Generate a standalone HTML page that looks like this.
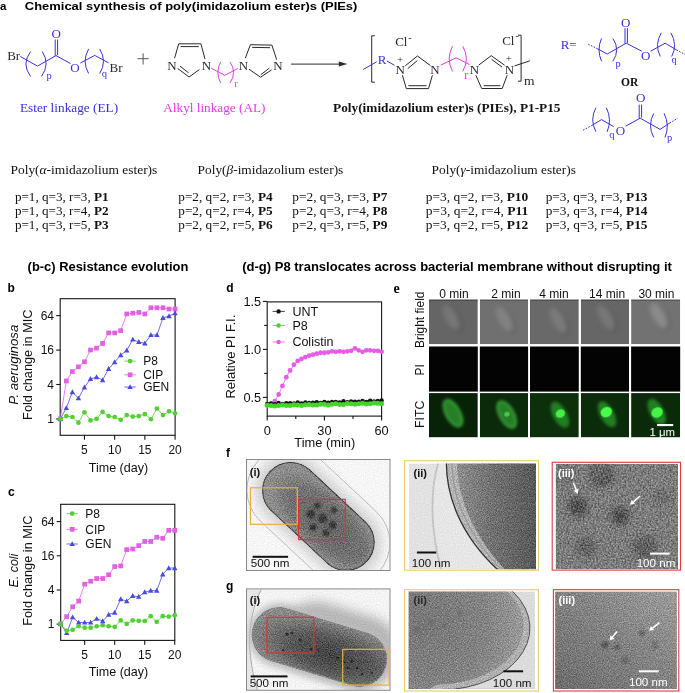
<!DOCTYPE html>
<html><head><meta charset="utf-8"><style>
html,body{margin:0;padding:0;background:#fff;}
body{width:685px;height:693px;overflow:hidden;}
svg{display:block;filter:blur(0.3px);}
</style></head><body>
<svg width="685" height="693" viewBox="0 0 685 693">
<rect width="685" height="693" fill="#fff"/>
<text x="0" y="9.9" font-family='"Liberation Sans", sans-serif' font-size="11.5" fill="#000" font-weight="bold" font-style="normal" text-anchor="start" >a</text>
<text x="24.8" y="9.9" font-family='"Liberation Sans", sans-serif' font-size="11.5" fill="#000" font-weight="bold" font-style="normal" text-anchor="start" textLength="332.6" lengthAdjust="spacingAndGlyphs" >Chemical synthesis of poly(imidazolium ester)s (PIEs)</text>
<text x="7.2" y="60.3" font-family='"Liberation Serif", serif' font-size="13" fill="#2a2a2a" font-weight="normal" font-style="normal" text-anchor="start" >Br</text>
<polyline points="20.40,56.50 37.40,66.10 56.00,55.60 70.50,63.50" fill="none" stroke="#3a2fe2" stroke-width="1.0" stroke-linejoin="miter" />
<line x1="55.2" y1="39.5" x2="55.2" y2="55.8" stroke="#3a2fe2" stroke-width="1.0" />
<line x1="57.6" y1="39.5" x2="57.6" y2="55.2" stroke="#3a2fe2" stroke-width="1.0" />
<text x="56.3" y="38.2" font-family='"Liberation Serif", serif' font-size="13" fill="#3a2fe2" font-weight="normal" font-style="normal" text-anchor="middle" >O</text>
<path d="M30.6,51.6 Q21.20,64.00 30.6,76.4" fill="none" stroke="#3a2fe2" stroke-width="1.0"/>
<path d="M42.3,51.6 Q50.30,64.00 41.5,76.4" fill="none" stroke="#3a2fe2" stroke-width="1.0"/>
<text x="46.6" y="78.5" font-family='"Liberation Serif", serif' font-size="10.5" fill="#3a2fe2" font-weight="normal" font-style="normal" text-anchor="start" >p</text>
<text x="74.9" y="71.6" font-family='"Liberation Serif", serif' font-size="13" fill="#3a2fe2" font-weight="normal" font-style="normal" text-anchor="middle" >O</text>
<polyline points="80.40,63.00 94.70,55.40 108.50,62.80" fill="none" stroke="#3a2fe2" stroke-width="1.0" stroke-linejoin="miter" />
<path d="M88.6,49 Q81.60,61.25 88.6,73.5" fill="none" stroke="#3a2fe2" stroke-width="1.0"/>
<path d="M99.7,49 Q107.30,61.25 99.7,73.5" fill="none" stroke="#3a2fe2" stroke-width="1.0"/>
<text x="101.8" y="76.6" font-family='"Liberation Serif", serif' font-size="10.5" fill="#3a2fe2" font-weight="normal" font-style="normal" text-anchor="start" >q</text>
<text x="109.6" y="71.6" font-family='"Liberation Serif", serif' font-size="13" fill="#2a2a2a" font-weight="normal" font-style="normal" text-anchor="start" >Br</text>
<line x1="137.5" y1="58.7" x2="148.6" y2="58.7" stroke="#555" stroke-width="1.0" />
<line x1="143.1" y1="53.4" x2="143.1" y2="64.5" stroke="#555" stroke-width="1.0" />
<text x="172.0" y="69.6" font-family='"Liberation Serif", serif' font-size="13" fill="#2a2a2a" font-weight="normal" font-style="normal" text-anchor="middle" >N</text>
<polyline points="174.60,58.20 178.70,43.80 200.90,43.80 205.00,59.00" fill="none" stroke="#2a2a2a" stroke-width="1.0" stroke-linejoin="miter" />
<line x1="180.6" y1="46.6" x2="198.8" y2="46.6" stroke="#2a2a2a" stroke-width="1.0" />
<polyline points="177.60,68.40 189.00,77.00 199.30,69.60" fill="none" stroke="#2a2a2a" stroke-width="1.0" stroke-linejoin="miter" />
<line x1="180.0" y1="66.2" x2="188.6" y2="72.8" stroke="#2a2a2a" stroke-width="1.0" />
<text x="206.4" y="69.8" font-family='"Liberation Serif", serif' font-size="13" fill="#2a2a2a" font-weight="normal" font-style="normal" text-anchor="middle" >N</text>
<polyline points="211.40,68.30 224.80,75.30 237.60,68.60" fill="none" stroke="#e63ae6" stroke-width="1.0" stroke-linejoin="miter" />
<path d="M220.7,61.9 Q214.90,72.40 220.7,82.9" fill="none" stroke="#e63ae6" stroke-width="1.0"/>
<path d="M230,61.9 Q237.20,72.40 230,82.9" fill="none" stroke="#e63ae6" stroke-width="1.0"/>
<text x="234.3" y="87.2" font-family='"Liberation Serif", serif' font-size="10.5" fill="#e63ae6" font-weight="normal" font-style="normal" text-anchor="start" >r</text>
<text x="243.5" y="69.9" font-family='"Liberation Serif", serif' font-size="13" fill="#2a2a2a" font-weight="normal" font-style="normal" text-anchor="middle" >N</text>
<polyline points="245.30,58.20 250.40,44.70 271.90,45.10 276.70,59.70" fill="none" stroke="#2a2a2a" stroke-width="1.0" stroke-linejoin="miter" />
<line x1="252.2" y1="47.4" x2="270.1" y2="47.7" stroke="#2a2a2a" stroke-width="1.0" />
<polyline points="249.00,69.20 260.60,77.20 271.60,69.90" fill="none" stroke="#2a2a2a" stroke-width="1.0" stroke-linejoin="miter" />
<line x1="260.8" y1="74.7" x2="269.4" y2="68.1" stroke="#2a2a2a" stroke-width="1.0" />
<text x="278.0" y="70.3" font-family='"Liberation Serif", serif' font-size="13" fill="#2a2a2a" font-weight="normal" font-style="normal" text-anchor="middle" >N</text>
<line x1="291.1" y1="64.1" x2="342" y2="64.1" stroke="#2a2a2a" stroke-width="1.0" />
<polygon points="338.8,61.6 347.4,64.1 338.8,66.6" fill="#2a2a2a"/>
<polyline points="374.90,35.80 371.70,35.80 371.70,82.20 374.90,82.20" fill="none" stroke="#2a2a2a" stroke-width="1.0" stroke-linejoin="miter" />
<polyline points="363.00,69.60 376.60,61.80" fill="none" stroke="#3a2fe2" stroke-width="1.0" stroke-linejoin="miter" />
<text x="382.2" y="63.8" font-family='"Liberation Serif", serif' font-size="13" fill="#3a2fe2" font-weight="normal" font-style="normal" text-anchor="middle" >R</text>
<polyline points="386.80,61.00 394.40,65.20" fill="none" stroke="#3a2fe2" stroke-width="1.0" stroke-linejoin="miter" />
<text x="400.0" y="63.0" font-family='"Liberation Serif", serif' font-size="11" fill="#2a2a2a" font-weight="normal" font-style="normal" text-anchor="middle" >+</text>
<text x="400.1" y="74" font-family='"Liberation Serif", serif' font-size="13" fill="#2a2a2a" font-weight="normal" font-style="normal" text-anchor="middle" >N</text>
<text x="395.2" y="46" font-family='"Liberation Serif", serif' font-size="13" fill="#2a2a2a" font-weight="normal" font-style="normal" text-anchor="start" >Cl</text>
<text x="408.2" y="40.6" font-family='"Liberation Serif", serif' font-size="10" fill="#2a2a2a" font-weight="normal" font-style="normal" text-anchor="start" >-</text>
<polyline points="405.30,65.80 417.40,56.00 430.40,65.50" fill="none" stroke="#2a2a2a" stroke-width="1.0" stroke-linejoin="miter" />
<line x1="407.8" y1="68.6" x2="417.3" y2="60.6" stroke="#2a2a2a" stroke-width="1.0" />
<polyline points="402.40,75.20 406.30,88.60 428.50,88.60 432.40,75.20" fill="none" stroke="#2a2a2a" stroke-width="1.0" stroke-linejoin="miter" />
<line x1="408.4" y1="85.7" x2="426.5" y2="85.7" stroke="#2a2a2a" stroke-width="1.0" />
<text x="434.9" y="74" font-family='"Liberation Serif", serif' font-size="13" fill="#2a2a2a" font-weight="normal" font-style="normal" text-anchor="middle" >N</text>
<polyline points="440.80,65.10 456.20,57.80 469.60,64.60" fill="none" stroke="#e63ae6" stroke-width="1.0" stroke-linejoin="miter" />
<path d="M452.5,46.2 Q445.90,58.80 452.5,71.4" fill="none" stroke="#e63ae6" stroke-width="1.0"/>
<path d="M462.7,46.2 Q470.10,58.80 462.7,71.4" fill="none" stroke="#e63ae6" stroke-width="1.0"/>
<text x="464.3" y="78.9" font-family='"Liberation Serif", serif' font-size="12" fill="#e63ae6" font-weight="normal" font-style="normal" text-anchor="start" >r</text>
<text x="474.4" y="73.9" font-family='"Liberation Serif", serif' font-size="13" fill="#2a2a2a" font-weight="normal" font-style="normal" text-anchor="middle" >N</text>
<polyline points="478.60,65.20 491.20,55.70 504.60,65.20" fill="none" stroke="#2a2a2a" stroke-width="1.0" stroke-linejoin="miter" />
<line x1="491.6" y1="59.4" x2="502.0" y2="67.0" stroke="#2a2a2a" stroke-width="1.0" />
<polyline points="475.80,75.20 481.70,88.50 502.20,88.50 507.20,75.20" fill="none" stroke="#2a2a2a" stroke-width="1.0" stroke-linejoin="miter" />
<line x1="483.6" y1="85.7" x2="500.4" y2="85.7" stroke="#2a2a2a" stroke-width="1.0" />
<text x="509.4" y="73.9" font-family='"Liberation Serif", serif' font-size="13" fill="#2a2a2a" font-weight="normal" font-style="normal" text-anchor="middle" >N</text>
<text x="508.8" y="62.0" font-family='"Liberation Serif", serif' font-size="11" fill="#2a2a2a" font-weight="normal" font-style="normal" text-anchor="middle" >+</text>
<text x="502.2" y="44.7" font-family='"Liberation Serif", serif' font-size="13" fill="#2a2a2a" font-weight="normal" font-style="normal" text-anchor="start" >Cl</text>
<text x="515.4" y="39.3" font-family='"Liberation Serif", serif' font-size="10" fill="#2a2a2a" font-weight="normal" font-style="normal" text-anchor="start" >-</text>
<polyline points="518.00,35.20 521.10,35.20 521.10,81.20 518.00,81.20" fill="none" stroke="#2a2a2a" stroke-width="1.0" stroke-linejoin="miter" />
<line x1="514.6" y1="65.9" x2="529.9" y2="60.8" stroke="#2a2a2a" stroke-width="1.0" />
<text x="524.0" y="84.9" font-family='"Liberation Serif", serif' font-size="13.5" fill="#2a2a2a" font-weight="normal" font-style="normal" text-anchor="start" >m</text>
<text x="560.7" y="48.9" font-family='"Liberation Serif", serif' font-size="13" fill="#3a2fe2" font-weight="normal" font-style="normal" text-anchor="start" >R=</text>
<line x1="588.2" y1="44.2" x2="597.7" y2="48.9" stroke="#3a2fe2" stroke-width="1.0" stroke-dasharray="1.6,1.4"/>
<polyline points="597.70,48.90 607.20,54.00 626.20,43.20 641.80,51.20" fill="none" stroke="#3a2fe2" stroke-width="1.0" stroke-linejoin="miter" />
<line x1="625.0" y1="28.2" x2="625.0" y2="43.5" stroke="#3a2fe2" stroke-width="1.0" />
<line x1="627.4" y1="28.2" x2="627.4" y2="42.8" stroke="#3a2fe2" stroke-width="1.0" />
<text x="625.8" y="27.2" font-family='"Liberation Serif", serif' font-size="13" fill="#3a2fe2" font-weight="normal" font-style="normal" text-anchor="middle" >O</text>
<text x="645.7" y="59.8" font-family='"Liberation Serif", serif' font-size="13" fill="#3a2fe2" font-weight="normal" font-style="normal" text-anchor="middle" >O</text>
<polyline points="650.60,51.20 665.10,43.20 676.50,49.90" fill="none" stroke="#3a2fe2" stroke-width="1.0" stroke-linejoin="miter" />
<line x1="676.5" y1="49.9" x2="685" y2="54.6" stroke="#3a2fe2" stroke-width="1.0" stroke-dasharray="1.6,1.4"/>
<path d="M601.5,38.5 Q596.50,49.85 601.5,61.2" fill="none" stroke="#3a2fe2" stroke-width="1.0"/>
<path d="M612.9,38.5 Q620.50,49.85 612.9,61.2" fill="none" stroke="#3a2fe2" stroke-width="1.0"/>
<text x="615.5" y="67.2" font-family='"Liberation Serif", serif' font-size="10.5" fill="#3a2fe2" font-weight="normal" font-style="normal" text-anchor="start" >p</text>
<path d="M661.3,32.8 Q654.20,44.65 660.3,56.5" fill="none" stroke="#3a2fe2" stroke-width="1.0"/>
<path d="M670.8,32.8 Q677.95,44.65 671.7,56.5" fill="none" stroke="#3a2fe2" stroke-width="1.0"/>
<text x="671.4" y="63.2" font-family='"Liberation Serif", serif' font-size="10.5" fill="#3a2fe2" font-weight="normal" font-style="normal" text-anchor="start" >q</text>
<text x="629.6" y="85.6" font-family='"Liberation Serif", serif' font-size="11.5" fill="#111" font-weight="bold" font-style="normal" text-anchor="middle" >OR</text>
<line x1="583" y1="130.2" x2="591.9" y2="125.4" stroke="#3a2fe2" stroke-width="1.0" stroke-dasharray="1.6,1.4"/>
<polyline points="591.90,125.40 601.50,119.60 613.60,126.60" fill="none" stroke="#3a2fe2" stroke-width="1.0" stroke-linejoin="miter" />
<path d="M595.9,107.7 Q589.50,119.75 595.9,131.8" fill="none" stroke="#3a2fe2" stroke-width="1.0"/>
<path d="M606.3,107.7 Q612.30,119.75 607.1,131.8" fill="none" stroke="#3a2fe2" stroke-width="1.0"/>
<text x="609.3" y="138.4" font-family='"Liberation Serif", serif' font-size="10.5" fill="#3a2fe2" font-weight="normal" font-style="normal" text-anchor="start" >q</text>
<text x="620.4" y="135.1" font-family='"Liberation Serif", serif' font-size="13" fill="#3a2fe2" font-weight="normal" font-style="normal" text-anchor="middle" >O</text>
<polyline points="625.60,126.20 640.20,118.20 660.10,129.40 669.70,123.00" fill="none" stroke="#3a2fe2" stroke-width="1.0" stroke-linejoin="miter" />
<line x1="639.2" y1="104.6" x2="639.2" y2="118.6" stroke="#3a2fe2" stroke-width="1.0" />
<line x1="641.6" y1="104.6" x2="641.6" y2="117.6" stroke="#3a2fe2" stroke-width="1.0" />
<text x="640.8" y="102.2" font-family='"Liberation Serif", serif' font-size="13" fill="#3a2fe2" font-weight="normal" font-style="normal" text-anchor="middle" >O</text>
<line x1="669.7" y1="123" x2="677.8" y2="118.2" stroke="#3a2fe2" stroke-width="1.0" stroke-dasharray="1.6,1.4"/>
<path d="M653.7,113.4 Q647.30,125.40 653.7,137.4" fill="none" stroke="#3a2fe2" stroke-width="1.0"/>
<path d="M664.1,113.4 Q670.05,125.40 665.0,137.4" fill="none" stroke="#3a2fe2" stroke-width="1.0"/>
<text x="667.1" y="140.8" font-family='"Liberation Serif", serif' font-size="10.5" fill="#3a2fe2" font-weight="normal" font-style="normal" text-anchor="start" >p</text>
<text x="20" y="111.9" font-family='"Liberation Serif", serif' font-size="13.5" fill="#3a2fe2" font-weight="normal" font-style="normal" text-anchor="start" textLength="98.1" lengthAdjust="spacingAndGlyphs" >Ester linkage (EL)</text>
<text x="163.3" y="111.9" font-family='"Liberation Serif", serif' font-size="13.5" fill="#e63ae6" font-weight="normal" font-style="normal" text-anchor="start" textLength="102.2" lengthAdjust="spacingAndGlyphs" >Alkyl linkage (AL)</text>
<text x="333.1" y="111.9" font-family='"Liberation Serif", serif' font-size="13" fill="#111" font-weight="bold" font-style="normal" text-anchor="start" textLength="227.4" lengthAdjust="spacingAndGlyphs" >Poly(imidazolium ester)s (PIEs), P1-P15</text>
<text x="10.5" y="173.7" font-family='"Liberation Serif", serif' font-size="12.5" fill="#111" textLength="146.8" lengthAdjust="spacingAndGlyphs">Poly(<tspan font-style="italic">α</tspan>-imidazolium ester)s</text>
<text x="197.6" y="173.7" font-family='"Liberation Serif", serif' font-size="12.5" fill="#111" textLength="145.70000000000002" lengthAdjust="spacingAndGlyphs">Poly(<tspan font-style="italic">β</tspan>-imidazolium ester)s</text>
<text x="431.6" y="173.7" font-family='"Liberation Serif", serif' font-size="12.5" fill="#111" textLength="144.29999999999995" lengthAdjust="spacingAndGlyphs">Poly(<tspan font-style="italic">γ</tspan>-imidazolium ester)s</text>
<text x="14.9" y="200.5" font-family='"Liberation Serif", serif' font-size="12.5" fill="#111" textLength="93.69999999999999" lengthAdjust="spacingAndGlyphs">p=1, q=3, r=3, <tspan font-weight="bold">P1</tspan></text>
<text x="14.9" y="214.6" font-family='"Liberation Serif", serif' font-size="12.5" fill="#111" textLength="93.69999999999999" lengthAdjust="spacingAndGlyphs">p=1, q=3, r=4, <tspan font-weight="bold">P2</tspan></text>
<text x="14.9" y="228.6" font-family='"Liberation Serif", serif' font-size="12.5" fill="#111" textLength="93.69999999999999" lengthAdjust="spacingAndGlyphs">p=1, q=3, r=5, <tspan font-weight="bold">P3</tspan></text>
<text x="178.3" y="200.5" font-family='"Liberation Serif", serif' font-size="12.5" fill="#111" textLength="94.30000000000001" lengthAdjust="spacingAndGlyphs">p=2, q=2, r=3, <tspan font-weight="bold">P4</tspan></text>
<text x="178.3" y="214.6" font-family='"Liberation Serif", serif' font-size="12.5" fill="#111" textLength="94.30000000000001" lengthAdjust="spacingAndGlyphs">p=2, q=2, r=4, <tspan font-weight="bold">P5</tspan></text>
<text x="178.3" y="228.6" font-family='"Liberation Serif", serif' font-size="12.5" fill="#111" textLength="94.30000000000001" lengthAdjust="spacingAndGlyphs">p=2, q=2, r=5, <tspan font-weight="bold">P6</tspan></text>
<text x="292.3" y="200.5" font-family='"Liberation Serif", serif' font-size="12.5" fill="#111" textLength="95.09999999999997" lengthAdjust="spacingAndGlyphs">p=2, q=3, r=3, <tspan font-weight="bold">P7</tspan></text>
<text x="292.3" y="214.6" font-family='"Liberation Serif", serif' font-size="12.5" fill="#111" textLength="95.09999999999997" lengthAdjust="spacingAndGlyphs">p=2, q=3, r=4, <tspan font-weight="bold">P8</tspan></text>
<text x="292.3" y="228.6" font-family='"Liberation Serif", serif' font-size="12.5" fill="#111" textLength="95.09999999999997" lengthAdjust="spacingAndGlyphs">p=2, q=3, r=5, <tspan font-weight="bold">P9</tspan></text>
<text x="425.8" y="200.5" font-family='"Liberation Serif", serif' font-size="12.5" fill="#111" textLength="102.49999999999994" lengthAdjust="spacingAndGlyphs">p=3, q=2, r=3, <tspan font-weight="bold">P10</tspan></text>
<text x="425.8" y="214.6" font-family='"Liberation Serif", serif' font-size="12.5" fill="#111" textLength="102.49999999999994" lengthAdjust="spacingAndGlyphs">p=3, q=2, r=4, <tspan font-weight="bold">P11</tspan></text>
<text x="425.8" y="228.6" font-family='"Liberation Serif", serif' font-size="12.5" fill="#111" textLength="102.49999999999994" lengthAdjust="spacingAndGlyphs">p=3, q=2, r=5, <tspan font-weight="bold">P12</tspan></text>
<text x="545.7" y="200.5" font-family='"Liberation Serif", serif' font-size="12.5" fill="#111" textLength="101.79999999999995" lengthAdjust="spacingAndGlyphs">p=3, q=3, r=3, <tspan font-weight="bold">P13</tspan></text>
<text x="545.7" y="214.6" font-family='"Liberation Serif", serif' font-size="12.5" fill="#111" textLength="101.79999999999995" lengthAdjust="spacingAndGlyphs">p=3, q=3, r=4, <tspan font-weight="bold">P14</tspan></text>
<text x="545.7" y="228.6" font-family='"Liberation Serif", serif' font-size="12.5" fill="#111" textLength="101.79999999999995" lengthAdjust="spacingAndGlyphs">p=3, q=3, r=5, <tspan font-weight="bold">P15</tspan></text>
<text x="27.6" y="270.5" font-family='"Liberation Sans", sans-serif' font-size="12" fill="#000" font-weight="bold" font-style="normal" text-anchor="start" textLength="160.7" lengthAdjust="spacingAndGlyphs" >(b-c) Resistance evolution</text>
<text x="242.2" y="270.8" font-family='"Liberation Sans", sans-serif' font-size="12" fill="#000" font-weight="bold" font-style="normal" text-anchor="start" textLength="429.7" lengthAdjust="spacingAndGlyphs" >(d-g) P8 translocates across bacterial membrane without disrupting it</text>
<text x="7.6" y="292.4" font-family='"Liberation Sans", sans-serif' font-size="12" fill="#000" font-weight="bold" font-style="normal" text-anchor="start" >b</text>
<text x="8.0" y="495.5" font-family='"Liberation Sans", sans-serif' font-size="12" fill="#000" font-weight="bold" font-style="normal" text-anchor="start" >c</text>
<text x="226.3" y="292.2" font-family='"Liberation Sans", sans-serif' font-size="12" fill="#000" font-weight="bold" font-style="normal" text-anchor="start" >d</text>
<text x="393.6" y="292.6" font-family='"Liberation Serif", serif' font-size="14" fill="#000" font-weight="bold" font-style="normal" text-anchor="start" >e</text>
<text x="226.0" y="456.8" font-family='"Liberation Sans", sans-serif' font-size="12" fill="#000" font-weight="bold" font-style="normal" text-anchor="start" >f</text>
<text x="226.0" y="589.5" font-family='"Liberation Sans", sans-serif' font-size="12" fill="#000" font-weight="bold" font-style="normal" text-anchor="start" >g</text>
<line x1="56.2" y1="315.6" x2="60.2" y2="315.6" stroke="#151515" stroke-width="1.1" />
<text x="54.0" y="319.90000000000003" font-family='"Liberation Sans", sans-serif' font-size="12" fill="#111" font-weight="normal" font-style="normal" text-anchor="end" >64</text>
<line x1="56.2" y1="350.1" x2="60.2" y2="350.1" stroke="#151515" stroke-width="1.1" />
<text x="54.0" y="354.40000000000003" font-family='"Liberation Sans", sans-serif' font-size="12" fill="#111" font-weight="normal" font-style="normal" text-anchor="end" >16</text>
<line x1="56.2" y1="384.5" x2="60.2" y2="384.5" stroke="#151515" stroke-width="1.1" />
<text x="54.0" y="388.8" font-family='"Liberation Sans", sans-serif' font-size="12" fill="#111" font-weight="normal" font-style="normal" text-anchor="end" >4</text>
<line x1="56.2" y1="418.9" x2="60.2" y2="418.9" stroke="#151515" stroke-width="1.1" />
<text x="54.0" y="423.2" font-family='"Liberation Sans", sans-serif' font-size="12" fill="#111" font-weight="normal" font-style="normal" text-anchor="end" >1</text>
<line x1="84.46" y1="435.3" x2="84.46" y2="439.7" stroke="#151515" stroke-width="1.1" />
<text x="84.46" y="453.5" font-family='"Liberation Sans", sans-serif' font-size="12" fill="#111" font-weight="normal" font-style="normal" text-anchor="middle" >5</text>
<line x1="114.66" y1="435.3" x2="114.66" y2="439.7" stroke="#151515" stroke-width="1.1" />
<text x="114.66" y="453.5" font-family='"Liberation Sans", sans-serif' font-size="12" fill="#111" font-weight="normal" font-style="normal" text-anchor="middle" >10</text>
<line x1="144.86" y1="435.3" x2="144.86" y2="439.7" stroke="#151515" stroke-width="1.1" />
<text x="144.86" y="453.5" font-family='"Liberation Sans", sans-serif' font-size="12" fill="#111" font-weight="normal" font-style="normal" text-anchor="middle" >15</text>
<line x1="175.06" y1="435.3" x2="175.06" y2="439.7" stroke="#151515" stroke-width="1.1" />
<text x="175.06" y="453.5" font-family='"Liberation Sans", sans-serif' font-size="12" fill="#111" font-weight="normal" font-style="normal" text-anchor="middle" >20</text>
<text x="118.45" y="471.6" font-family='"Liberation Sans", sans-serif' font-size="12.4" fill="#111" font-weight="normal" font-style="normal" text-anchor="middle" textLength="59.4" lengthAdjust="spacingAndGlyphs" >Time (day)</text>
<rect x="60.2" y="298.7" width="114.89999999999999" height="136.60000000000002" fill="none" stroke="#151515" stroke-width="1.1"/>
<polyline points="60.30,418.87 66.34,380.96 72.38,371.58 78.42,366.88 84.46,361.82 90.50,349.99 96.54,348.12 102.58,343.42 108.62,332.91 114.66,332.91 120.70,330.66 126.74,313.96 132.78,313.21 138.82,312.45 144.86,313.96 150.90,307.76 156.94,307.76 162.98,307.76 169.02,309.08 175.06,309.08" fill="none" stroke="#e35fe3" stroke-width="0.8" stroke-linejoin="miter" />
<rect x="57.95" y="416.52" width="4.70" height="4.70" fill="#e35fe3"/>
<rect x="63.99" y="378.61" width="4.70" height="4.70" fill="#e35fe3"/>
<rect x="70.03" y="369.23" width="4.70" height="4.70" fill="#e35fe3"/>
<rect x="76.07" y="364.53" width="4.70" height="4.70" fill="#e35fe3"/>
<rect x="82.11" y="359.47" width="4.70" height="4.70" fill="#e35fe3"/>
<rect x="88.15" y="347.64" width="4.70" height="4.70" fill="#e35fe3"/>
<rect x="94.19" y="345.77" width="4.70" height="4.70" fill="#e35fe3"/>
<rect x="100.23" y="341.07" width="4.70" height="4.70" fill="#e35fe3"/>
<rect x="106.27" y="330.56" width="4.70" height="4.70" fill="#e35fe3"/>
<rect x="112.31" y="330.56" width="4.70" height="4.70" fill="#e35fe3"/>
<rect x="118.35" y="328.31" width="4.70" height="4.70" fill="#e35fe3"/>
<rect x="124.39" y="311.61" width="4.70" height="4.70" fill="#e35fe3"/>
<rect x="130.43" y="310.86" width="4.70" height="4.70" fill="#e35fe3"/>
<rect x="136.47" y="310.10" width="4.70" height="4.70" fill="#e35fe3"/>
<rect x="142.51" y="311.61" width="4.70" height="4.70" fill="#e35fe3"/>
<rect x="148.55" y="305.41" width="4.70" height="4.70" fill="#e35fe3"/>
<rect x="154.59" y="305.41" width="4.70" height="4.70" fill="#e35fe3"/>
<rect x="160.63" y="305.41" width="4.70" height="4.70" fill="#e35fe3"/>
<rect x="166.67" y="306.73" width="4.70" height="4.70" fill="#e35fe3"/>
<rect x="172.71" y="306.73" width="4.70" height="4.70" fill="#e35fe3"/>
<polyline points="60.30,418.87 66.34,407.99 72.38,392.03 78.42,398.23 84.46,387.34 90.50,378.90 96.54,377.02 102.58,380.02 108.62,368.76 114.66,362.19 120.70,355.06 126.74,350.37 132.78,339.48 138.82,341.92 144.86,343.42 150.90,334.98 156.94,334.98 162.98,317.90 169.02,316.02 175.06,313.21" fill="none" stroke="#4a4ae2" stroke-width="0.8" stroke-linejoin="miter" />
<polygon points="60.30,416.05 63.03,420.99 57.57,420.99" fill="#4a4ae2"/>
<polygon points="66.34,405.17 69.07,410.10 63.61,410.10" fill="#4a4ae2"/>
<polygon points="72.38,389.21 75.11,394.15 69.65,394.15" fill="#4a4ae2"/>
<polygon points="78.42,395.41 81.15,400.34 75.69,400.34" fill="#4a4ae2"/>
<polygon points="84.46,384.52 87.19,389.46 81.73,389.46" fill="#4a4ae2"/>
<polygon points="90.50,376.08 93.23,381.01 87.77,381.01" fill="#4a4ae2"/>
<polygon points="96.54,374.20 99.27,379.13 93.81,379.13" fill="#4a4ae2"/>
<polygon points="102.58,377.20 105.31,382.14 99.85,382.14" fill="#4a4ae2"/>
<polygon points="108.62,365.94 111.35,370.88 105.89,370.88" fill="#4a4ae2"/>
<polygon points="114.66,359.37 117.39,364.31 111.93,364.31" fill="#4a4ae2"/>
<polygon points="120.70,352.24 123.43,357.18 117.97,357.18" fill="#4a4ae2"/>
<polygon points="126.74,347.55 129.47,352.48 124.01,352.48" fill="#4a4ae2"/>
<polygon points="132.78,336.66 135.51,341.60 130.05,341.60" fill="#4a4ae2"/>
<polygon points="138.82,339.10 141.55,344.04 136.09,344.04" fill="#4a4ae2"/>
<polygon points="144.86,340.60 147.59,345.54 142.13,345.54" fill="#4a4ae2"/>
<polygon points="150.90,332.16 153.63,337.09 148.17,337.09" fill="#4a4ae2"/>
<polygon points="156.94,332.16 159.67,337.09 154.21,337.09" fill="#4a4ae2"/>
<polygon points="162.98,315.08 165.71,320.01 160.25,320.01" fill="#4a4ae2"/>
<polygon points="169.02,313.20 171.75,318.14 166.29,318.14" fill="#4a4ae2"/>
<polygon points="175.06,310.39 177.79,315.32 172.33,315.32" fill="#4a4ae2"/>
<polyline points="60.30,418.87 66.34,416.06 72.38,417.00 78.42,422.63 84.46,412.30 90.50,420.38 96.54,418.87 102.58,411.93 108.62,416.06 114.66,417.00 120.70,419.81 126.74,415.12 132.78,416.62 138.82,416.06 144.86,414.18 150.90,419.25 156.94,408.55 162.98,415.12 169.02,411.37 175.06,413.24" fill="none" stroke="#52d033" stroke-width="0.8" stroke-linejoin="miter" />
<circle cx="60.30" cy="418.87" r="2.35" fill="#52d033"/>
<circle cx="66.34" cy="416.06" r="2.35" fill="#52d033"/>
<circle cx="72.38" cy="417.00" r="2.35" fill="#52d033"/>
<circle cx="78.42" cy="422.63" r="2.35" fill="#52d033"/>
<circle cx="84.46" cy="412.30" r="2.35" fill="#52d033"/>
<circle cx="90.50" cy="420.38" r="2.35" fill="#52d033"/>
<circle cx="96.54" cy="418.87" r="2.35" fill="#52d033"/>
<circle cx="102.58" cy="411.93" r="2.35" fill="#52d033"/>
<circle cx="108.62" cy="416.06" r="2.35" fill="#52d033"/>
<circle cx="114.66" cy="417.00" r="2.35" fill="#52d033"/>
<circle cx="120.70" cy="419.81" r="2.35" fill="#52d033"/>
<circle cx="126.74" cy="415.12" r="2.35" fill="#52d033"/>
<circle cx="132.78" cy="416.62" r="2.35" fill="#52d033"/>
<circle cx="138.82" cy="416.06" r="2.35" fill="#52d033"/>
<circle cx="144.86" cy="414.18" r="2.35" fill="#52d033"/>
<circle cx="150.90" cy="419.25" r="2.35" fill="#52d033"/>
<circle cx="156.94" cy="408.55" r="2.35" fill="#52d033"/>
<circle cx="162.98" cy="415.12" r="2.35" fill="#52d033"/>
<circle cx="169.02" cy="411.37" r="2.35" fill="#52d033"/>
<circle cx="175.06" cy="413.24" r="2.35" fill="#52d033"/>
<line x1="124.4" y1="361.1" x2="135.70000000000002" y2="361.1" stroke="#52d033" stroke-width="0.8" />
<circle cx="130.10" cy="361.10" r="2.35" fill="#52d033"/>
<text x="143.20000000000002" y="365.40000000000003" font-family='"Liberation Sans", sans-serif' font-size="12" fill="#111" font-weight="normal" font-style="normal" text-anchor="start" >P8</text>
<line x1="124.4" y1="374.8" x2="135.70000000000002" y2="374.8" stroke="#e35fe3" stroke-width="0.8" />
<rect x="127.75" y="372.45" width="4.70" height="4.70" fill="#e35fe3"/>
<text x="143.20000000000002" y="379.1" font-family='"Liberation Sans", sans-serif' font-size="12" fill="#111" font-weight="normal" font-style="normal" text-anchor="start" >CIP</text>
<line x1="124.4" y1="387.0" x2="135.70000000000002" y2="387.0" stroke="#4a4ae2" stroke-width="0.8" />
<polygon points="130.10,384.18 132.83,389.12 127.37,389.12" fill="#4a4ae2"/>
<text x="143.20000000000002" y="391.3" font-family='"Liberation Sans", sans-serif' font-size="12" fill="#111" font-weight="normal" font-style="normal" text-anchor="start" >GEN</text>
<text transform="translate(32.0,364.7) rotate(-90)" font-family='"Liberation Sans", sans-serif' font-size="12.5" fill="#111" text-anchor="middle" textLength="110.4" lengthAdjust="spacingAndGlyphs">Fold change in MIC</text>
<text transform="translate(18.3,364.7) rotate(-90)" font-family='"Liberation Sans", sans-serif' font-size="12.5" fill="#111" font-style="italic" text-anchor="middle" textLength="80.1" lengthAdjust="spacingAndGlyphs">P. aeruginosa</text>
<line x1="56.7" y1="521.6" x2="60.7" y2="521.6" stroke="#151515" stroke-width="1.1" />
<text x="54.5" y="525.9" font-family='"Liberation Sans", sans-serif' font-size="12" fill="#111" font-weight="normal" font-style="normal" text-anchor="end" >64</text>
<line x1="56.7" y1="555.8" x2="60.7" y2="555.8" stroke="#151515" stroke-width="1.1" />
<text x="54.5" y="560.0999999999999" font-family='"Liberation Sans", sans-serif' font-size="12" fill="#111" font-weight="normal" font-style="normal" text-anchor="end" >16</text>
<line x1="56.7" y1="590.0" x2="60.7" y2="590.0" stroke="#151515" stroke-width="1.1" />
<text x="54.5" y="594.3" font-family='"Liberation Sans", sans-serif' font-size="12" fill="#111" font-weight="normal" font-style="normal" text-anchor="end" >4</text>
<line x1="56.7" y1="624.1" x2="60.7" y2="624.1" stroke="#151515" stroke-width="1.1" />
<text x="54.5" y="628.4" font-family='"Liberation Sans", sans-serif' font-size="12" fill="#111" font-weight="normal" font-style="normal" text-anchor="end" >1</text>
<line x1="84.67" y1="640.4" x2="84.67" y2="644.8" stroke="#151515" stroke-width="1.1" />
<text x="84.67" y="658.6" font-family='"Liberation Sans", sans-serif' font-size="12" fill="#111" font-weight="normal" font-style="normal" text-anchor="middle" >5</text>
<line x1="114.695" y1="640.4" x2="114.695" y2="644.8" stroke="#151515" stroke-width="1.1" />
<text x="114.695" y="658.6" font-family='"Liberation Sans", sans-serif' font-size="12" fill="#111" font-weight="normal" font-style="normal" text-anchor="middle" >10</text>
<line x1="144.72" y1="640.4" x2="144.72" y2="644.8" stroke="#151515" stroke-width="1.1" />
<text x="144.72" y="658.6" font-family='"Liberation Sans", sans-serif' font-size="12" fill="#111" font-weight="normal" font-style="normal" text-anchor="middle" >15</text>
<line x1="174.745" y1="640.4" x2="174.745" y2="644.8" stroke="#151515" stroke-width="1.1" />
<text x="174.745" y="658.6" font-family='"Liberation Sans", sans-serif' font-size="12" fill="#111" font-weight="normal" font-style="normal" text-anchor="middle" >20</text>
<text x="118.55" y="676.3" font-family='"Liberation Sans", sans-serif' font-size="12.4" fill="#111" font-weight="normal" font-style="normal" text-anchor="middle" textLength="59.4" lengthAdjust="spacingAndGlyphs" >Time (day)</text>
<rect x="60.7" y="504.3" width="114.10000000000001" height="136.09999999999997" fill="none" stroke="#151515" stroke-width="1.1"/>
<polyline points="60.65,623.95 66.66,616.62 72.66,606.78 78.66,601.13 84.67,584.17 90.67,581.24 96.68,578.52 102.69,578.52 108.69,574.75 114.69,566.58 120.70,565.95 126.70,549.62 132.71,548.99 138.72,545.64 144.72,541.46 150.72,541.46 156.73,537.27 162.73,538.32 168.74,530.36 174.75,530.36" fill="none" stroke="#e35fe3" stroke-width="0.8" stroke-linejoin="miter" />
<rect x="58.30" y="621.60" width="4.70" height="4.70" fill="#e35fe3"/>
<rect x="64.31" y="614.27" width="4.70" height="4.70" fill="#e35fe3"/>
<rect x="70.31" y="604.43" width="4.70" height="4.70" fill="#e35fe3"/>
<rect x="76.31" y="598.78" width="4.70" height="4.70" fill="#e35fe3"/>
<rect x="82.32" y="581.82" width="4.70" height="4.70" fill="#e35fe3"/>
<rect x="88.33" y="578.89" width="4.70" height="4.70" fill="#e35fe3"/>
<rect x="94.33" y="576.17" width="4.70" height="4.70" fill="#e35fe3"/>
<rect x="100.34" y="576.17" width="4.70" height="4.70" fill="#e35fe3"/>
<rect x="106.34" y="572.40" width="4.70" height="4.70" fill="#e35fe3"/>
<rect x="112.34" y="564.23" width="4.70" height="4.70" fill="#e35fe3"/>
<rect x="118.35" y="563.60" width="4.70" height="4.70" fill="#e35fe3"/>
<rect x="124.35" y="547.27" width="4.70" height="4.70" fill="#e35fe3"/>
<rect x="130.36" y="546.64" width="4.70" height="4.70" fill="#e35fe3"/>
<rect x="136.37" y="543.29" width="4.70" height="4.70" fill="#e35fe3"/>
<rect x="142.37" y="539.11" width="4.70" height="4.70" fill="#e35fe3"/>
<rect x="148.38" y="539.11" width="4.70" height="4.70" fill="#e35fe3"/>
<rect x="154.38" y="534.92" width="4.70" height="4.70" fill="#e35fe3"/>
<rect x="160.38" y="535.97" width="4.70" height="4.70" fill="#e35fe3"/>
<rect x="166.39" y="528.01" width="4.70" height="4.70" fill="#e35fe3"/>
<rect x="172.40" y="528.01" width="4.70" height="4.70" fill="#e35fe3"/>
<polyline points="60.65,623.95 66.66,632.96 72.66,617.25 78.66,622.49 84.67,622.49 90.67,622.49 96.68,618.72 102.69,621.02 108.69,614.53 114.69,612.65 120.70,599.04 126.70,601.13 132.71,595.90 138.72,596.73 144.72,592.13 150.72,590.66 156.73,590.66 162.73,574.33 168.74,568.05 174.75,568.05" fill="none" stroke="#4a4ae2" stroke-width="0.8" stroke-linejoin="miter" />
<polygon points="60.65,621.13 63.38,626.07 57.92,626.07" fill="#4a4ae2"/>
<polygon points="66.66,630.14 69.38,635.07 63.93,635.07" fill="#4a4ae2"/>
<polygon points="72.66,614.43 75.39,619.37 69.93,619.37" fill="#4a4ae2"/>
<polygon points="78.66,619.67 81.39,624.60 75.94,624.60" fill="#4a4ae2"/>
<polygon points="84.67,619.67 87.40,624.60 81.94,624.60" fill="#4a4ae2"/>
<polygon points="90.67,619.67 93.40,624.60 87.95,624.60" fill="#4a4ae2"/>
<polygon points="96.68,615.90 99.41,620.83 93.95,620.83" fill="#4a4ae2"/>
<polygon points="102.69,618.20 105.41,623.14 99.96,623.14" fill="#4a4ae2"/>
<polygon points="108.69,611.71 111.42,616.65 105.96,616.65" fill="#4a4ae2"/>
<polygon points="114.69,609.83 117.42,614.76 111.97,614.76" fill="#4a4ae2"/>
<polygon points="120.70,596.22 123.43,601.15 117.97,601.15" fill="#4a4ae2"/>
<polygon points="126.70,598.31 129.43,603.25 123.98,603.25" fill="#4a4ae2"/>
<polygon points="132.71,593.08 135.44,598.01 129.98,598.01" fill="#4a4ae2"/>
<polygon points="138.72,593.91 141.44,598.85 135.99,598.85" fill="#4a4ae2"/>
<polygon points="144.72,589.31 147.45,594.24 141.99,594.24" fill="#4a4ae2"/>
<polygon points="150.72,587.84 153.45,592.78 148.00,592.78" fill="#4a4ae2"/>
<polygon points="156.73,587.84 159.46,592.78 154.00,592.78" fill="#4a4ae2"/>
<polygon points="162.73,571.51 165.46,576.44 160.01,576.44" fill="#4a4ae2"/>
<polygon points="168.74,565.23 171.47,570.16 166.01,570.16" fill="#4a4ae2"/>
<polygon points="174.75,565.23 177.47,570.16 172.02,570.16" fill="#4a4ae2"/>
<polyline points="60.65,623.95 66.66,630.86 72.66,629.82 78.66,626.26 84.67,627.72 90.67,627.72 96.68,626.26 102.69,625.21 108.69,626.26 114.69,626.88 120.70,620.39 126.70,623.95 132.71,620.39 138.72,620.81 144.72,621.02 150.72,616.21 156.73,621.86 162.73,616.21 168.74,616.62 174.75,615.16" fill="none" stroke="#52d033" stroke-width="0.8" stroke-linejoin="miter" />
<circle cx="60.65" cy="623.95" r="2.35" fill="#52d033"/>
<circle cx="66.66" cy="630.86" r="2.35" fill="#52d033"/>
<circle cx="72.66" cy="629.82" r="2.35" fill="#52d033"/>
<circle cx="78.66" cy="626.26" r="2.35" fill="#52d033"/>
<circle cx="84.67" cy="627.72" r="2.35" fill="#52d033"/>
<circle cx="90.67" cy="627.72" r="2.35" fill="#52d033"/>
<circle cx="96.68" cy="626.26" r="2.35" fill="#52d033"/>
<circle cx="102.69" cy="625.21" r="2.35" fill="#52d033"/>
<circle cx="108.69" cy="626.26" r="2.35" fill="#52d033"/>
<circle cx="114.69" cy="626.88" r="2.35" fill="#52d033"/>
<circle cx="120.70" cy="620.39" r="2.35" fill="#52d033"/>
<circle cx="126.70" cy="623.95" r="2.35" fill="#52d033"/>
<circle cx="132.71" cy="620.39" r="2.35" fill="#52d033"/>
<circle cx="138.72" cy="620.81" r="2.35" fill="#52d033"/>
<circle cx="144.72" cy="621.02" r="2.35" fill="#52d033"/>
<circle cx="150.72" cy="616.21" r="2.35" fill="#52d033"/>
<circle cx="156.73" cy="621.86" r="2.35" fill="#52d033"/>
<circle cx="162.73" cy="616.21" r="2.35" fill="#52d033"/>
<circle cx="168.74" cy="616.62" r="2.35" fill="#52d033"/>
<circle cx="174.75" cy="615.16" r="2.35" fill="#52d033"/>
<line x1="66.5" y1="513.6" x2="77.8" y2="513.6" stroke="#52d033" stroke-width="0.8" />
<circle cx="72.20" cy="513.60" r="2.35" fill="#52d033"/>
<text x="85.3" y="517.9" font-family='"Liberation Sans", sans-serif' font-size="12" fill="#111" font-weight="normal" font-style="normal" text-anchor="start" >P8</text>
<line x1="66.5" y1="529.3" x2="77.8" y2="529.3" stroke="#e35fe3" stroke-width="0.8" />
<rect x="69.85" y="526.95" width="4.70" height="4.70" fill="#e35fe3"/>
<text x="85.3" y="533.5999999999999" font-family='"Liberation Sans", sans-serif' font-size="12" fill="#111" font-weight="normal" font-style="normal" text-anchor="start" >CIP</text>
<line x1="66.5" y1="544.0" x2="77.8" y2="544.0" stroke="#4a4ae2" stroke-width="0.8" />
<polygon points="72.20,541.18 74.93,546.12 69.47,546.12" fill="#4a4ae2"/>
<text x="85.3" y="548.3" font-family='"Liberation Sans", sans-serif' font-size="12" fill="#111" font-weight="normal" font-style="normal" text-anchor="start" >GEN</text>
<text transform="translate(32.0,570.6) rotate(-90)" font-family='"Liberation Sans", sans-serif' font-size="12.5" fill="#111" text-anchor="middle" textLength="110.3" lengthAdjust="spacingAndGlyphs">Fold change in MIC</text>
<text transform="translate(18.3,570.6) rotate(-90)" font-family='"Liberation Sans", sans-serif' font-size="12.5" fill="#111" font-style="italic" text-anchor="middle" textLength="33.9" lengthAdjust="spacingAndGlyphs">E. coli</text>
<line x1="262.9" y1="301.4" x2="267.2" y2="301.4" stroke="#151515" stroke-width="1.1" />
<text x="261.2" y="305.9" font-family='"Liberation Sans", sans-serif' font-size="12.8" fill="#111" font-weight="normal" font-style="normal" text-anchor="end" >1.5</text>
<line x1="262.9" y1="349.4" x2="267.2" y2="349.4" stroke="#151515" stroke-width="1.1" />
<text x="261.2" y="353.9" font-family='"Liberation Sans", sans-serif' font-size="12.8" fill="#111" font-weight="normal" font-style="normal" text-anchor="end" >1.0</text>
<line x1="262.9" y1="397.4" x2="267.2" y2="397.4" stroke="#151515" stroke-width="1.1" />
<text x="261.2" y="401.9" font-family='"Liberation Sans", sans-serif' font-size="12.8" fill="#111" font-weight="normal" font-style="normal" text-anchor="end" >0.5</text>
<line x1="264.2" y1="325.4" x2="267.2" y2="325.4" stroke="#151515" stroke-width="1.1" />
<line x1="264.2" y1="373.4" x2="267.2" y2="373.4" stroke="#151515" stroke-width="1.1" />
<line x1="267.2" y1="416.1" x2="267.2" y2="420.5" stroke="#151515" stroke-width="1.1" />
<text x="267.2" y="434.7" font-family='"Liberation Sans", sans-serif' font-size="12.8" fill="#111" font-weight="normal" font-style="normal" text-anchor="middle" >0</text>
<line x1="324.4" y1="416.1" x2="324.4" y2="420.5" stroke="#151515" stroke-width="1.1" />
<text x="324.4" y="434.7" font-family='"Liberation Sans", sans-serif' font-size="12.8" fill="#111" font-weight="normal" font-style="normal" text-anchor="middle" >30</text>
<line x1="381.6" y1="416.1" x2="381.6" y2="420.5" stroke="#151515" stroke-width="1.1" />
<text x="381.6" y="434.7" font-family='"Liberation Sans", sans-serif' font-size="12.8" fill="#111" font-weight="normal" font-style="normal" text-anchor="middle" >60</text>
<line x1="295.8" y1="416.1" x2="295.8" y2="419.1" stroke="#151515" stroke-width="1.1" />
<line x1="353.0" y1="416.1" x2="353.0" y2="419.1" stroke="#151515" stroke-width="1.1" />
<text x="324.8" y="446.7" font-family='"Liberation Sans", sans-serif' font-size="12.8" fill="#111" font-weight="normal" font-style="normal" text-anchor="middle" textLength="60.9" lengthAdjust="spacingAndGlyphs" >Time (min)</text>
<text transform="translate(234.6,356.6) rotate(-90)" font-family='"Liberation Sans", sans-serif' font-size="12.5" fill="#111" text-anchor="middle" textLength="83.9" lengthAdjust="spacingAndGlyphs">Relative PI F.I.</text>
<rect x="267.2" y="301.9" width="114.40000000000003" height="114.20000000000005" fill="none" stroke="#151515" stroke-width="1.1"/>
<polyline points="267.20,405.08 271.01,404.12 274.83,401.24 278.64,394.52 282.45,385.88 286.27,377.24 290.08,370.52 293.89,364.76 297.71,360.92 301.52,359.00 305.33,357.08 309.15,355.64 312.96,354.68 316.77,353.72 320.59,352.76 324.40,352.76 328.21,352.28 332.03,351.32 335.84,351.80 339.65,351.32 343.47,351.80 347.28,351.32 351.09,350.84 354.91,348.44 358.72,350.36 362.53,351.80 366.35,350.36 370.16,350.36 373.97,350.84 377.79,350.84 381.60,351.80" fill="none" stroke="#e65ce6" stroke-width="0.8" stroke-linejoin="miter" />
<circle cx="267.20" cy="405.08" r="2.4" fill="#e65ce6"/>
<circle cx="271.01" cy="404.12" r="2.4" fill="#e65ce6"/>
<circle cx="274.83" cy="401.24" r="2.4" fill="#e65ce6"/>
<circle cx="278.64" cy="394.52" r="2.4" fill="#e65ce6"/>
<circle cx="282.45" cy="385.88" r="2.4" fill="#e65ce6"/>
<circle cx="286.27" cy="377.24" r="2.4" fill="#e65ce6"/>
<circle cx="290.08" cy="370.52" r="2.4" fill="#e65ce6"/>
<circle cx="293.89" cy="364.76" r="2.4" fill="#e65ce6"/>
<circle cx="297.71" cy="360.92" r="2.4" fill="#e65ce6"/>
<circle cx="301.52" cy="359.00" r="2.4" fill="#e65ce6"/>
<circle cx="305.33" cy="357.08" r="2.4" fill="#e65ce6"/>
<circle cx="309.15" cy="355.64" r="2.4" fill="#e65ce6"/>
<circle cx="312.96" cy="354.68" r="2.4" fill="#e65ce6"/>
<circle cx="316.77" cy="353.72" r="2.4" fill="#e65ce6"/>
<circle cx="320.59" cy="352.76" r="2.4" fill="#e65ce6"/>
<circle cx="324.40" cy="352.76" r="2.4" fill="#e65ce6"/>
<circle cx="328.21" cy="352.28" r="2.4" fill="#e65ce6"/>
<circle cx="332.03" cy="351.32" r="2.4" fill="#e65ce6"/>
<circle cx="335.84" cy="351.80" r="2.4" fill="#e65ce6"/>
<circle cx="339.65" cy="351.32" r="2.4" fill="#e65ce6"/>
<circle cx="343.47" cy="351.80" r="2.4" fill="#e65ce6"/>
<circle cx="347.28" cy="351.32" r="2.4" fill="#e65ce6"/>
<circle cx="351.09" cy="350.84" r="2.4" fill="#e65ce6"/>
<circle cx="354.91" cy="348.44" r="2.4" fill="#e65ce6"/>
<circle cx="358.72" cy="350.36" r="2.4" fill="#e65ce6"/>
<circle cx="362.53" cy="351.80" r="2.4" fill="#e65ce6"/>
<circle cx="366.35" cy="350.36" r="2.4" fill="#e65ce6"/>
<circle cx="370.16" cy="350.36" r="2.4" fill="#e65ce6"/>
<circle cx="373.97" cy="350.84" r="2.4" fill="#e65ce6"/>
<circle cx="377.79" cy="350.84" r="2.4" fill="#e65ce6"/>
<circle cx="381.60" cy="351.80" r="2.4" fill="#e65ce6"/>
<polyline points="267.20,403.93 271.01,403.53 274.83,404.23 278.64,403.05 282.45,404.00 286.27,403.17 290.08,403.25 293.89,403.56 297.71,402.57 301.52,403.57 305.33,402.46 309.15,402.99 312.96,402.82 316.77,402.20 320.59,403.05 324.40,401.84 328.21,402.69 332.03,402.06 335.84,401.90 339.65,402.42 343.47,401.31 347.28,402.31 351.09,401.33 354.91,401.64 358.72,401.71 362.53,400.89 366.35,401.84 370.16,400.65 373.97,401.36 377.79,400.96 381.60,400.56" fill="none" stroke="#111" stroke-width="0.8" stroke-linejoin="miter" />
<circle cx="267.20" cy="403.93" r="2.2" fill="#111"/>
<circle cx="271.01" cy="403.53" r="2.2" fill="#111"/>
<circle cx="274.83" cy="404.23" r="2.2" fill="#111"/>
<circle cx="278.64" cy="403.05" r="2.2" fill="#111"/>
<circle cx="282.45" cy="404.00" r="2.2" fill="#111"/>
<circle cx="286.27" cy="403.17" r="2.2" fill="#111"/>
<circle cx="290.08" cy="403.25" r="2.2" fill="#111"/>
<circle cx="293.89" cy="403.56" r="2.2" fill="#111"/>
<circle cx="297.71" cy="402.57" r="2.2" fill="#111"/>
<circle cx="301.52" cy="403.57" r="2.2" fill="#111"/>
<circle cx="305.33" cy="402.46" r="2.2" fill="#111"/>
<circle cx="309.15" cy="402.99" r="2.2" fill="#111"/>
<circle cx="312.96" cy="402.82" r="2.2" fill="#111"/>
<circle cx="316.77" cy="402.20" r="2.2" fill="#111"/>
<circle cx="320.59" cy="403.05" r="2.2" fill="#111"/>
<circle cx="324.40" cy="401.84" r="2.2" fill="#111"/>
<circle cx="328.21" cy="402.69" r="2.2" fill="#111"/>
<circle cx="332.03" cy="402.06" r="2.2" fill="#111"/>
<circle cx="335.84" cy="401.90" r="2.2" fill="#111"/>
<circle cx="339.65" cy="402.42" r="2.2" fill="#111"/>
<circle cx="343.47" cy="401.31" r="2.2" fill="#111"/>
<circle cx="347.28" cy="402.31" r="2.2" fill="#111"/>
<circle cx="351.09" cy="401.33" r="2.2" fill="#111"/>
<circle cx="354.91" cy="401.64" r="2.2" fill="#111"/>
<circle cx="358.72" cy="401.71" r="2.2" fill="#111"/>
<circle cx="362.53" cy="400.89" r="2.2" fill="#111"/>
<circle cx="366.35" cy="401.84" r="2.2" fill="#111"/>
<circle cx="370.16" cy="400.65" r="2.2" fill="#111"/>
<circle cx="373.97" cy="401.36" r="2.2" fill="#111"/>
<circle cx="377.79" cy="400.96" r="2.2" fill="#111"/>
<circle cx="381.60" cy="400.56" r="2.2" fill="#111"/>
<polyline points="267.20,405.35 271.01,405.51 274.83,406.06 278.64,405.45 282.45,404.97 286.27,405.60 290.08,405.59 293.89,404.76 297.71,404.94 301.52,405.48 305.33,404.85 309.15,404.39 312.96,405.03 316.77,404.99 320.59,404.17 324.40,404.37 328.21,404.90 332.03,404.25 335.84,403.81 339.65,404.46 343.47,404.40 347.28,403.58 351.09,403.81 354.91,404.32 358.72,403.65 362.53,403.24 366.35,403.89 370.16,403.80 373.97,402.99 377.79,403.24 381.60,403.74" fill="none" stroke="#45d52a" stroke-width="0.8" stroke-linejoin="miter" />
<circle cx="267.20" cy="405.35" r="2.5" fill="#45d52a"/>
<circle cx="271.01" cy="405.51" r="2.5" fill="#45d52a"/>
<circle cx="274.83" cy="406.06" r="2.5" fill="#45d52a"/>
<circle cx="278.64" cy="405.45" r="2.5" fill="#45d52a"/>
<circle cx="282.45" cy="404.97" r="2.5" fill="#45d52a"/>
<circle cx="286.27" cy="405.60" r="2.5" fill="#45d52a"/>
<circle cx="290.08" cy="405.59" r="2.5" fill="#45d52a"/>
<circle cx="293.89" cy="404.76" r="2.5" fill="#45d52a"/>
<circle cx="297.71" cy="404.94" r="2.5" fill="#45d52a"/>
<circle cx="301.52" cy="405.48" r="2.5" fill="#45d52a"/>
<circle cx="305.33" cy="404.85" r="2.5" fill="#45d52a"/>
<circle cx="309.15" cy="404.39" r="2.5" fill="#45d52a"/>
<circle cx="312.96" cy="405.03" r="2.5" fill="#45d52a"/>
<circle cx="316.77" cy="404.99" r="2.5" fill="#45d52a"/>
<circle cx="320.59" cy="404.17" r="2.5" fill="#45d52a"/>
<circle cx="324.40" cy="404.37" r="2.5" fill="#45d52a"/>
<circle cx="328.21" cy="404.90" r="2.5" fill="#45d52a"/>
<circle cx="332.03" cy="404.25" r="2.5" fill="#45d52a"/>
<circle cx="335.84" cy="403.81" r="2.5" fill="#45d52a"/>
<circle cx="339.65" cy="404.46" r="2.5" fill="#45d52a"/>
<circle cx="343.47" cy="404.40" r="2.5" fill="#45d52a"/>
<circle cx="347.28" cy="403.58" r="2.5" fill="#45d52a"/>
<circle cx="351.09" cy="403.81" r="2.5" fill="#45d52a"/>
<circle cx="354.91" cy="404.32" r="2.5" fill="#45d52a"/>
<circle cx="358.72" cy="403.65" r="2.5" fill="#45d52a"/>
<circle cx="362.53" cy="403.24" r="2.5" fill="#45d52a"/>
<circle cx="366.35" cy="403.89" r="2.5" fill="#45d52a"/>
<circle cx="370.16" cy="403.80" r="2.5" fill="#45d52a"/>
<circle cx="373.97" cy="402.99" r="2.5" fill="#45d52a"/>
<circle cx="377.79" cy="403.24" r="2.5" fill="#45d52a"/>
<circle cx="381.60" cy="403.74" r="2.5" fill="#45d52a"/>
<line x1="272.7" y1="311.4" x2="284.9" y2="311.4" stroke="#111" stroke-width="0.8" />
<circle cx="278.6" cy="311.4" r="2.2" fill="#111"/>
<text x="292.4" y="315.79999999999995" font-family='"Liberation Sans", sans-serif' font-size="12.5" fill="#111" font-weight="normal" font-style="normal" text-anchor="start" >UNT</text>
<line x1="272.7" y1="325.5" x2="284.9" y2="325.5" stroke="#45d52a" stroke-width="0.8" />
<circle cx="278.6" cy="325.5" r="2.2" fill="#45d52a"/>
<text x="292.4" y="329.9" font-family='"Liberation Sans", sans-serif' font-size="12.5" fill="#111" font-weight="normal" font-style="normal" text-anchor="start" >P8</text>
<line x1="272.7" y1="342.0" x2="284.9" y2="342.0" stroke="#e65ce6" stroke-width="0.8" />
<circle cx="278.6" cy="342.0" r="2.2" fill="#e65ce6"/>
<text x="292.4" y="346.4" font-family='"Liberation Sans", sans-serif' font-size="12.5" fill="#111" font-weight="normal" font-style="normal" text-anchor="start" >Colistin</text>
<g clip-path="url(#ce0)">
<rect x="429.0" y="299.4" width="48.80" height="44.90" fill="rgb(101,101,101)"/>
<ellipse cx="454.0" cy="319.5" rx="15" ry="7.5" transform="rotate(62 454.0 319.5)" fill="rgb(93,93,93)" filter="url(#b2)"/>
<ellipse cx="451.0" cy="317.5" rx="14" ry="6.2" transform="rotate(62 451.0 317.5)" fill="rgb(118,118,118)" filter="url(#b2)"/>
<rect x="429.0" y="299.4" width="48.80" height="1.2" fill="rgb(61,61,61)"/>
</g>
<rect x="429.0" y="346.5" width="48.80" height="45.10" fill="#030303"/>
<g clip-path="url(#ce1)">
<rect x="479.8" y="299.4" width="48.30" height="44.90" fill="rgb(112,112,112)"/>
<ellipse cx="507.2" cy="321.0" rx="15" ry="7.5" transform="rotate(62 507.2 321.0)" fill="rgb(104,104,104)" filter="url(#b2)"/>
<ellipse cx="504.2" cy="319.0" rx="14" ry="6.2" transform="rotate(62 504.2 319.0)" fill="rgb(129,129,129)" filter="url(#b2)"/>
<rect x="479.8" y="299.4" width="48.30" height="1.2" fill="rgb(72,72,72)"/>
</g>
<rect x="479.8" y="346.5" width="48.30" height="45.10" fill="#030303"/>
<g clip-path="url(#ce2)">
<rect x="530.0" y="299.4" width="48.80" height="44.90" fill="rgb(105,105,105)"/>
<ellipse cx="561.0" cy="322.2" rx="15" ry="7.5" transform="rotate(62 561.0 322.2)" fill="rgb(97,97,97)" filter="url(#b2)"/>
<ellipse cx="558.0" cy="320.2" rx="14" ry="6.2" transform="rotate(62 558.0 320.2)" fill="rgb(122,122,122)" filter="url(#b2)"/>
<rect x="530.0" y="299.4" width="48.80" height="1.2" fill="rgb(65,65,65)"/>
</g>
<rect x="530.0" y="346.5" width="48.80" height="45.10" fill="#030303"/>
<g clip-path="url(#ce3)">
<rect x="580.8" y="299.4" width="48.20" height="44.90" fill="rgb(102,102,102)"/>
<ellipse cx="608.8" cy="319.4" rx="15" ry="7.5" transform="rotate(62 608.8 319.4)" fill="rgb(94,94,94)" filter="url(#b2)"/>
<ellipse cx="605.8" cy="317.4" rx="14" ry="6.2" transform="rotate(62 605.8 317.4)" fill="rgb(119,119,119)" filter="url(#b2)"/>
<rect x="580.8" y="299.4" width="48.20" height="1.2" fill="rgb(62,62,62)"/>
</g>
<rect x="580.8" y="346.5" width="48.20" height="45.10" fill="#030303"/>
<g clip-path="url(#ce4)">
<rect x="631.1" y="299.4" width="49.10" height="44.90" fill="rgb(114,114,114)"/>
<ellipse cx="661.6" cy="317.5" rx="15" ry="7.5" transform="rotate(62 661.6 317.5)" fill="rgb(106,106,106)" filter="url(#b2)"/>
<ellipse cx="658.6" cy="315.5" rx="14" ry="6.2" transform="rotate(62 658.6 315.5)" fill="rgb(138,138,138)" filter="url(#b2)"/>
<rect x="631.1" y="299.4" width="49.10" height="1.2" fill="rgb(74,74,74)"/>
</g>
<rect x="631.1" y="346.5" width="49.10" height="45.10" fill="#030303"/>
<g clip-path="url(#cf0)">
<rect x="429.0" y="393.1" width="48.80" height="44.30" fill="rgb(8,34,8)"/>
<ellipse cx="452.9" cy="413.2" rx="14.6" ry="7.0" transform="rotate(61 452.9 413.2)" fill="#267f26" stroke="#39a539" stroke-width="2.0" filter="url(#b14)"/>
</g>
<g clip-path="url(#cf1)">
<rect x="479.8" y="393.1" width="48.30" height="44.30" fill="rgb(10,42,10)"/>
<ellipse cx="506.7" cy="414.6" rx="14.6" ry="7.0" transform="rotate(61 506.7 414.6)" fill="#267f26" stroke="#39a539" stroke-width="2.0" filter="url(#b14)"/>
<ellipse cx="506.9" cy="414.3" rx="2.34" ry="2.73" transform="rotate(61 506.9 414.3)" fill="#4cc84c" filter="url(#b08)"/>
</g>
<g clip-path="url(#cf2)">
<rect x="530.0" y="393.1" width="48.80" height="44.30" fill="rgb(11,48,11)"/>
<ellipse cx="559.9" cy="414.7" rx="14.2" ry="7.0" transform="rotate(61 559.9 414.7)" fill="#247e24" filter="url(#b14)"/>
<ellipse cx="560.3" cy="413.6" rx="4.14" ry="4.83" transform="rotate(61 560.3 413.6)" fill="#45f045" filter="url(#b08)"/>
</g>
<g clip-path="url(#cf3)">
<rect x="580.8" y="393.1" width="48.20" height="44.30" fill="rgb(10,44,10)"/>
<ellipse cx="607.0" cy="414.3" rx="14.2" ry="7.0" transform="rotate(61 607.0 414.3)" fill="#247e24" filter="url(#b14)"/>
<ellipse cx="606.4" cy="412.1" rx="5.04" ry="5.88" transform="rotate(61 606.4 412.1)" fill="#48ff48" filter="url(#b08)"/>
</g>
<g clip-path="url(#cf4)">
<rect x="631.1" y="393.1" width="49.10" height="44.30" fill="rgb(10,42,10)"/>
<ellipse cx="656.7" cy="411.8" rx="14.2" ry="7.0" transform="rotate(61 656.7 411.8)" fill="#247e24" filter="url(#b14)"/>
<ellipse cx="657.1" cy="412.5" rx="5.04" ry="5.88" transform="rotate(61 657.1 412.5)" fill="#44f444" filter="url(#b08)"/>
</g>
<text x="453.9" y="297.7" font-family='"Liberation Sans", sans-serif' font-size="12" fill="#111" font-weight="normal" font-style="normal" text-anchor="middle" >0 min</text>
<text x="506.0" y="297.7" font-family='"Liberation Sans", sans-serif' font-size="12" fill="#111" font-weight="normal" font-style="normal" text-anchor="middle" >2 min</text>
<text x="554.0" y="297.7" font-family='"Liberation Sans", sans-serif' font-size="12" fill="#111" font-weight="normal" font-style="normal" text-anchor="middle" >4 min</text>
<text x="607.1" y="297.7" font-family='"Liberation Sans", sans-serif' font-size="12" fill="#111" font-weight="normal" font-style="normal" text-anchor="middle" >14 min</text>
<text x="656.4" y="297.7" font-family='"Liberation Sans", sans-serif' font-size="12" fill="#111" font-weight="normal" font-style="normal" text-anchor="middle" >30 min</text>
<text transform="translate(424.2,319.8) rotate(-90)" font-family='"Liberation Sans", sans-serif' font-size="12" fill="#111" text-anchor="middle" textLength="56.6" lengthAdjust="spacingAndGlyphs">Bright field</text>
<text transform="translate(424.2,369.8) rotate(-90)" font-family='"Liberation Sans", sans-serif' font-size="12" fill="#111" text-anchor="middle">PI</text>
<text transform="translate(424.2,414.3) rotate(-90)" font-family='"Liberation Sans", sans-serif' font-size="12" fill="#111" text-anchor="middle" textLength="27.3" lengthAdjust="spacingAndGlyphs">FITC</text>
<rect x="657.1" y="424.0" width="16.1" height="2.1" fill="#fff"/>
<text x="662.3" y="436.0" font-family='"Liberation Sans", sans-serif' font-size="11.4" fill="#fff" font-weight="normal" font-style="normal" text-anchor="middle" >1 μm</text>
<g clip-path="url(#cfi)">
<g filter="url(#grainL)"><rect x="247" y="460" width="142.5" height="110" fill="#f6f6f6"/>
<g transform="translate(318.4 516.4) rotate(43)">
<rect x="-74" y="-35" width="148" height="70" rx="35" fill="#d0d0d0" filter="url(#b5)"/>
<rect x="-82" y="-43" width="164" height="86" rx="43" fill="none" stroke="#a8a8a8" stroke-width="0.7"/>
</g></g>
<g filter="url(#grain)"><g transform="translate(318.4 516.4) rotate(43)">
<rect x="-66" y="-28" width="132" height="56" rx="28" fill="url(#gfi)" stroke="#404040" stroke-width="1.1"/>
<rect x="-63.5" y="-25.5" width="127" height="51" rx="25.5" fill="none" stroke="#8e8e8e" stroke-width="0.8"/>
</g>
<circle cx="311" cy="514" r="4.4" fill="#383838" filter="url(#b1)"/>
<circle cx="322.7" cy="518.5" r="4.6" fill="#383838" filter="url(#b1)"/>
<circle cx="317.3" cy="505.4" r="3.2" fill="#383838" filter="url(#b1)"/>
<circle cx="332.6" cy="525" r="3.8" fill="#383838" filter="url(#b1)"/>
<circle cx="313" cy="527.3" r="3.6" fill="#383838" filter="url(#b1)"/>
<circle cx="334" cy="510" r="3.0" fill="#383838" filter="url(#b1)"/>
<circle cx="326" cy="533" r="3.2" fill="#383838" filter="url(#b1)"/>
</g></g>
<rect x="246.5" y="459.5" width="143.5" height="111" fill="none" stroke="#8a8a8a" stroke-width="1"/>
<rect x="250.5" y="487.8" width="46.8" height="36.5" fill="none" stroke="#e2b43a" stroke-width="1.2"/>
<rect x="298.6" y="499.4" width="46.7" height="40.2" fill="none" stroke="#e23030" stroke-width="1.2"/>
<rect x="252.6" y="555.8" width="35.5" height="2" fill="#111"/>
<text x="270.1" y="567.3" font-family='"Liberation Sans", sans-serif' font-size="11.6" fill="#111" font-weight="normal" font-style="normal" text-anchor="middle" >500 nm</text>
<text x="249.8" y="476.4" font-family='"Liberation Sans", sans-serif' font-size="11" fill="#111" font-weight="bold" font-style="normal" text-anchor="start" >(i)</text>
<g clip-path="url(#cfii)"><g filter="url(#grainL)">
<rect x="408.9" y="463.5" width="127.1" height="105.8" fill="#e2e2e2"/>
<path d="M438.5,462 C430,490 430,530 441.5,570 L560,570 L560,462 Z" fill="#e6e6e6"/>
<path d="M438.5,462 C430,490 430,530 441.5,570" fill="none" stroke="#c4c4c4" stroke-width="1.8"/>
</g><g filter="url(#grain)">
<path d="M446.4,462 C446,495 460,535 498,570 L560,570 L560,462 Z" fill="#b2b2b2"/>
<path d="M457,462 C457,495 471,533 505,570 L560,570 L560,462 Z" fill="url(#gfii)"/>
</g>
<path d="M446.4,462 C446,495 460,535 498,570" fill="none" stroke="#333" stroke-width="1.3"/>
<path d="M452,462 C452,495 466,533 502,570" fill="none" stroke="#8a8a8a" stroke-width="0.8"/>
</g>
<rect x="404.6" y="460.7" width="133.9" height="109.5" fill="none" stroke="#e8cc6a" stroke-width="1.1"/>
<rect x="416.9" y="551.5" width="19.3" height="2" fill="#111"/>
<text x="431.1" y="567.1" font-family='"Liberation Sans", sans-serif' font-size="11.6" fill="#111" font-weight="normal" font-style="normal" text-anchor="middle" >100 nm</text>
<text x="413.6" y="477.4" font-family='"Liberation Sans", sans-serif' font-size="11" fill="#111" font-weight="bold" font-style="normal" text-anchor="start" >(ii)</text>
<g clip-path="url(#cfiii)"><g filter="url(#grain2)">
<rect x="555.6" y="463.8" width="122.5" height="105.5" fill="#7c7c7c"/>
<circle cx="578" cy="507" r="10" fill="#505050" filter="url(#b3)"/>
<circle cx="620" cy="516" r="9" fill="#4c4c4c" filter="url(#b3)"/>
<circle cx="602" cy="475" r="12" fill="#585858" filter="url(#b3)"/>
<circle cx="586" cy="547" r="10" fill="#606060" filter="url(#b3)"/>
<circle cx="645" cy="548" r="12" fill="#5e5e5e" filter="url(#b3)"/>
<circle cx="662" cy="497" r="8" fill="#6c6c6c" filter="url(#b3)"/>
<circle cx="598" cy="470" r="8" fill="#6a6a6a" filter="url(#b3)"/>
<circle cx="567" cy="475" r="8" fill="#666" filter="url(#b3)"/>
</g></g>
<rect x="552.2" y="462.3" width="128.3" height="107.8" fill="none" stroke="#e23a3a" stroke-width="1.1"/>
<line x1="573.3" y1="482.8" x2="576.12" y2="489.82" stroke="#fff" stroke-width="1.6"/>
<polygon points="577.8,494.0 573.71,490.79 578.53,488.86" fill="#fff"/>
<line x1="640.1" y1="496.0" x2="633.39" y2="501.84" stroke="#fff" stroke-width="1.6"/>
<polygon points="630.0,504.8 631.68,499.88 635.10,503.80" fill="#fff"/>
<rect x="650" y="552.6" width="19.7" height="2" fill="#fff"/>
<text x="656.0" y="567.1" font-family='"Liberation Sans", sans-serif' font-size="11.6" fill="#fff" font-weight="normal" font-style="normal" text-anchor="middle" >100 nm</text>
<text x="558.0" y="477.4" font-family='"Liberation Sans", sans-serif' font-size="11" fill="#fff" font-weight="bold" font-style="normal" text-anchor="start" >(iii)</text>
<g clip-path="url(#cgi)">
<g filter="url(#grainL)"><rect x="247" y="589.5" width="142.5" height="100.5" fill="#f4f4f4"/>
<path d="M262,588 C248,615 245,650 258,692 L240,692 L240,588 Z" fill="#e6e6e6"/>
<path d="M262,588 C248,615 245,650 258,692" fill="none" stroke="#9a9a9a" stroke-width="0.8"/>
<g transform="translate(319.4 647.0) rotate(17)">
<rect x="-40" y="-44" width="118" height="70" rx="33" fill="#b4b4b4" filter="url(#b5)"/>
<rect x="-73" y="-32" width="146" height="64" rx="32" fill="#bcbcbc" filter="url(#b3)"/>
</g></g>
<g filter="url(#grain)"><g transform="translate(319.4 647.0) rotate(17)">
<rect x="-69" y="-27" width="138" height="54" rx="27" fill="url(#ggi)" stroke="#8a8a8a" stroke-width="1.0"/>
</g>
<circle cx="287" cy="634" r="1.6" fill="#2a2a2a" filter="url(#b08)"/>
<circle cx="292" cy="633" r="1.4" fill="#2a2a2a" filter="url(#b08)"/>
<circle cx="300" cy="640" r="1.5" fill="#2a2a2a" filter="url(#b08)"/>
<circle cx="338" cy="658" r="1.5" fill="#2a2a2a" filter="url(#b08)"/>
<circle cx="344" cy="662" r="1.4" fill="#2a2a2a" filter="url(#b08)"/>
<circle cx="352" cy="661" r="1.5" fill="#2a2a2a" filter="url(#b08)"/>
<circle cx="348" cy="668" r="1.3" fill="#2a2a2a" filter="url(#b08)"/>
<circle cx="357" cy="668" r="1.2" fill="#2a2a2a" filter="url(#b08)"/>
<circle cx="362" cy="674" r="1.2" fill="#2a2a2a" filter="url(#b08)"/>
<circle cx="372" cy="673" r="1.2" fill="#2a2a2a" filter="url(#b08)"/>
<circle cx="283" cy="650" r="1.2" fill="#2a2a2a" filter="url(#b08)"/>
<circle cx="311" cy="650" r="1.2" fill="#2a2a2a" filter="url(#b08)"/>
<circle cx="318" cy="650" r="1.1" fill="#2a2a2a" filter="url(#b08)"/>
</g></g>
<rect x="246.5" y="588.9" width="143.5" height="101.4" fill="none" stroke="#8a8a8a" stroke-width="1"/>
<rect x="267" y="617.3" width="46.8" height="35.7" fill="none" stroke="#e23030" stroke-width="1.2"/>
<rect x="342.7" y="649.3" width="46.5" height="35.8" fill="none" stroke="#e2b43a" stroke-width="1.2"/>
<rect x="250.7" y="675.4" width="36.8" height="2" fill="#111"/>
<text x="269.0" y="687.4" font-family='"Liberation Sans", sans-serif' font-size="11.6" fill="#111" font-weight="normal" font-style="normal" text-anchor="middle" >500 nm</text>
<text x="249.8" y="604.2" font-family='"Liberation Sans", sans-serif' font-size="11" fill="#111" font-weight="bold" font-style="normal" text-anchor="start" >(i)</text>
<g clip-path="url(#cgii)"><g filter="url(#grainL)">
<rect x="408.6" y="591.4" width="126.5" height="97.5" fill="#dcdcdc"/>
</g><g filter="url(#grain)">
<path d="M400,585 L504.8,585 A90,62 0 0 1 440,690 L400,692 Z" fill="#b0b0b0"/>
<path d="M400,585 L498.7,585 A86.5,58.5 0 0 1 437,684.5 L425,692 L400,692 Z" fill="url(#ggii)"/>
</g>
<path d="M504.8,585 A90,62 0 0 1 440,690" fill="none" stroke="#484848" stroke-width="0.9"/>
<circle cx="417" cy="629" r="3.0" fill="#6a6a6a" filter="url(#b1)"/>
<circle cx="431" cy="622" r="2.6" fill="#6a6a6a" filter="url(#b1)"/>
<circle cx="444" cy="626" r="2.2" fill="#6a6a6a" filter="url(#b1)"/>
<circle cx="460" cy="613" r="2.6" fill="#6a6a6a" filter="url(#b1)"/>
</g>
<rect x="404.6" y="589.7" width="133.8" height="101.3" fill="none" stroke="#e8cc6a" stroke-width="1.1"/>
<rect x="503.4" y="670.3" width="19.7" height="2" fill="#111"/>
<text x="512.2" y="686.7" font-family='"Liberation Sans", sans-serif' font-size="11.6" fill="#111" font-weight="normal" font-style="normal" text-anchor="middle" >100 nm</text>
<text x="413.6" y="603.5" font-family='"Liberation Sans", sans-serif' font-size="11" fill="#2a2a2a" font-weight="bold" font-style="normal" text-anchor="start" >(ii)</text>
<g clip-path="url(#cgiii)"><g filter="url(#grain)">
<rect x="555.1" y="591.4" width="121.8" height="97.5" fill="url(#ggiii)"/>
<circle cx="605" cy="645" r="3.4" fill="#565656" filter="url(#b1)"/>
<circle cx="617" cy="647" r="3.0" fill="#5e5e5e" filter="url(#b1)"/>
<circle cx="642" cy="633" r="2.8" fill="#5e5e5e" filter="url(#b1)"/>
<circle cx="625" cy="660" r="4.0" fill="#6a6a6a" filter="url(#b1)"/>
<circle cx="655" cy="645" r="4" fill="#727272" filter="url(#b1)"/>
</g></g>
<rect x="553.4" y="589.7" width="125.4" height="101.3" fill="none" stroke="#e23a3a" stroke-width="1.1"/>
<line x1="617.1" y1="631.5" x2="612.40" y2="637.06" stroke="#fff" stroke-width="1.6"/>
<polygon points="609.5,640.5 610.42,635.38 614.39,638.74" fill="#fff"/>
<line x1="659.4" y1="622.7" x2="652.55" y2="628.03" stroke="#fff" stroke-width="1.6"/>
<polygon points="649.0,630.8 650.95,625.98 654.15,630.09" fill="#fff"/>
<rect x="639" y="670.3" width="19.7" height="2" fill="#fff"/>
<text x="648.3" y="686.2" font-family='"Liberation Sans", sans-serif' font-size="11.6" fill="#fff" font-weight="normal" font-style="normal" text-anchor="middle" >100 nm</text>
<text x="558.6" y="603.5" font-family='"Liberation Sans", sans-serif' font-size="11" fill="#fff" font-weight="bold" font-style="normal" text-anchor="start" >(iii)</text>
<defs><filter id="grain" x="0" y="0" width="100%" height="100%" color-interpolation-filters="sRGB">
<feTurbulence type="fractalNoise" baseFrequency="0.85" numOctaves="2" seed="7" result="n"/>
<feColorMatrix in="n" type="matrix" values="1 0 0 0 0  1 0 0 0 0  1 0 0 0 0  0 0 0 0 1" result="g"/>
<feComposite in="SourceGraphic" in2="g" operator="arithmetic" k1="0" k2="1" k3="0.45" k4="-0.225" result="c"/>
<feComposite in="c" in2="SourceAlpha" operator="in"/>
</filter>
<filter id="grain2" x="0" y="0" width="100%" height="100%" color-interpolation-filters="sRGB">
<feTurbulence type="fractalNoise" baseFrequency="0.6" numOctaves="2" seed="3" result="n"/>
<feColorMatrix in="n" type="matrix" values="1 0 0 0 0  1 0 0 0 0  1 0 0 0 0  0 0 0 0 1" result="g"/>
<feComposite in="SourceGraphic" in2="g" operator="arithmetic" k1="0" k2="1" k3="0.6" k4="-0.3" result="c"/>
<feComposite in="c" in2="SourceAlpha" operator="in"/>
</filter>
<filter id="b1" x="-50%" y="-50%" width="200%" height="200%"><feGaussianBlur stdDeviation="1.2"/></filter>
<filter id="b2" x="-50%" y="-50%" width="200%" height="200%"><feGaussianBlur stdDeviation="2.2"/></filter>
<filter id="b3" x="-50%" y="-50%" width="200%" height="200%"><feGaussianBlur stdDeviation="3.5"/></filter>
<filter id="b5" x="-50%" y="-50%" width="200%" height="200%"><feGaussianBlur stdDeviation="6"/></filter>
<filter id="b14" x="-50%" y="-50%" width="200%" height="200%"><feGaussianBlur stdDeviation="1.5"/></filter>
<filter id="b08" x="-50%" y="-50%" width="200%" height="200%"><feGaussianBlur stdDeviation="0.7"/></filter>

<clipPath id="ce0"><rect x="429.0" y="299.4" width="48.80" height="44.90"/></clipPath>
<clipPath id="ce1"><rect x="479.8" y="299.4" width="48.30" height="44.90"/></clipPath>
<clipPath id="ce2"><rect x="530.0" y="299.4" width="48.80" height="44.90"/></clipPath>
<clipPath id="ce3"><rect x="580.8" y="299.4" width="48.20" height="44.90"/></clipPath>
<clipPath id="ce4"><rect x="631.1" y="299.4" width="49.10" height="44.90"/></clipPath>
<clipPath id="cf0"><rect x="429.0" y="393.1" width="48.80" height="44.30"/></clipPath>
<clipPath id="cf1"><rect x="479.8" y="393.1" width="48.30" height="44.30"/></clipPath>
<clipPath id="cf2"><rect x="530.0" y="393.1" width="48.80" height="44.30"/></clipPath>
<clipPath id="cf3"><rect x="580.8" y="393.1" width="48.20" height="44.30"/></clipPath>
<clipPath id="cf4"><rect x="631.1" y="393.1" width="49.10" height="44.30"/></clipPath>
<filter id="grainL" x="0" y="0" width="100%" height="100%" color-interpolation-filters="sRGB">
<feTurbulence type="fractalNoise" baseFrequency="0.9" numOctaves="1" seed="11" result="n"/>
<feColorMatrix in="n" type="matrix" values="1 0 0 0 0  1 0 0 0 0  1 0 0 0 0  0 0 0 0 1" result="g"/>
<feComposite in="SourceGraphic" in2="g" operator="arithmetic" k1="0" k2="1" k3="0.16" k4="-0.08" result="c"/>
<feComposite in="c" in2="SourceAlpha" operator="in"/>
</filter>
<clipPath id="cfi"><rect x="247" y="460" width="142.50" height="110.00"/></clipPath>
<radialGradient id="gfi" cx="0.58" cy="0.5" r="0.55"><stop offset="0" stop-color="#626262"/><stop offset="0.65" stop-color="#737373"/><stop offset="1" stop-color="#8e8e8e"/></radialGradient>
<clipPath id="cfii"><rect x="408.9" y="463.5" width="127.10" height="105.80"/></clipPath>
<linearGradient id="gfii" x1="0" y1="0" x2="1" y2="0"><stop offset="0" stop-color="#8c8c8c"/><stop offset="0.3" stop-color="#747474"/><stop offset="1" stop-color="#4a4a4a"/></linearGradient>
<clipPath id="cfiii"><rect x="555.6" y="463.8" width="122.50" height="105.50"/></clipPath>
<clipPath id="cgi"><rect x="247" y="589.5" width="142.50" height="100.50"/></clipPath>
<radialGradient id="ggi" cx="0.6" cy="0.58" r="0.62"><stop offset="0" stop-color="#424242"/><stop offset="0.5" stop-color="#585858"/><stop offset="1" stop-color="#8a8a8a"/></radialGradient>
<clipPath id="cgii"><rect x="408.6" y="591.4" width="126.50" height="97.50"/></clipPath>
<radialGradient id="ggii" gradientUnits="userSpaceOnUse" cx="425" cy="625" r="105"><stop offset="0" stop-color="#777777"/><stop offset="0.6" stop-color="#838383"/><stop offset="1" stop-color="#9e9e9e"/></radialGradient>
<clipPath id="cgiii"><rect x="555.1" y="591.4" width="121.80" height="97.50"/></clipPath>
<linearGradient id="ggiii" x1="0" y1="1" x2="1" y2="0"><stop offset="0" stop-color="#6c6c6c"/><stop offset="0.55" stop-color="#848484"/><stop offset="1" stop-color="#9c9c9c"/></linearGradient></defs>
</svg></body></html>
